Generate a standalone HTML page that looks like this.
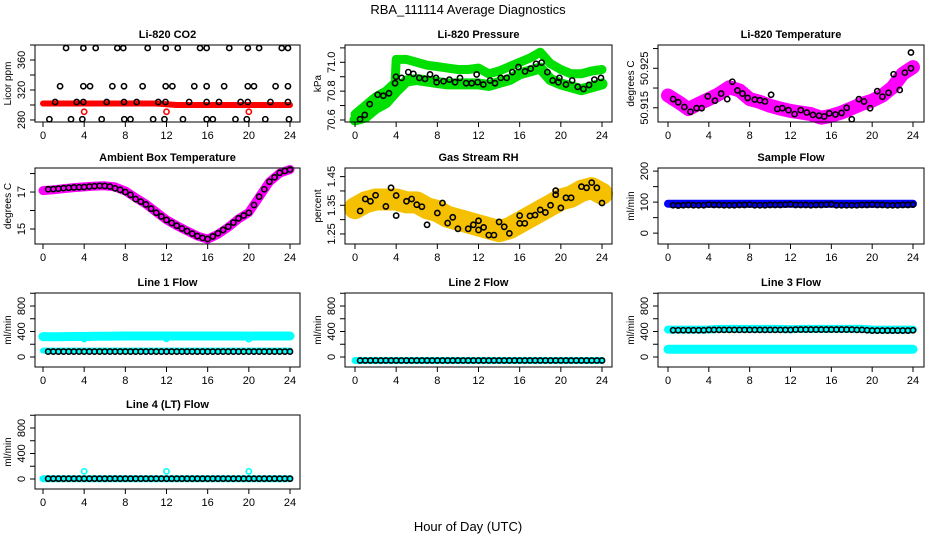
<!DOCTYPE html>
<html><head><meta charset="utf-8"><style>
html,body{margin:0;padding:0;background:#fff;}
svg{display:block;font-family:"Liberation Sans",Arial,sans-serif;}
</style></head><body>
<svg id="chart" width="936" height="540" viewBox="0 0 936 540">
<text x="468" y="14" text-anchor="middle" font-size="13">RBA_111114  Average Diagnostics</text>
<text x="468" y="531" text-anchor="middle" font-size="13">Hour of Day (UTC)</text>
</svg>
<script>
// ---------- DATA ----------
const hourTicks = [0,4,8,12,16,20,24];
const bandHours = [0,1,2,3,4,5,6,7,8,9,10,11,12,13,14,15,16,17,18,19,20,21,22,23,24];
const halfHours = [0.5,1,1.5,2,2.5,3,3.5,4,4.5,5,5.5,6,6.5,7,7.5,8,8.5,9,9.5,10,10.5,11,11.5,12,12.5,13,13.5,14,14.5,15,15.5,16,16.5,17,17.5,18,18.5,19,19.5,20,20.5,21,21.5,22,22.5,23,23.5,24];

// CO2
const co2Band = [302,302,302,302,302,302,302,302,302,302,302,302,301,300,300,300,300,300,300,300,300,300,300,300,300];
const co2Hours = [2.24,3.92,5.12,7.22,7.8,10.17,11.92,13.09,15.26,15.9,18.1,19.9,21,23.2,23.8, 1.66,3.92,4.57,6.74,7.87,9.68,11.92,12.57,14.7,15.9,17.6,19.9,20.5,22.6,23.8, 1.18,3.27,3.92,6.19,7.87,9.1,11.2,11.9,14.2,15.9,17.1,19.2,19.9,22.1,23.8, 0.62,2.72,3.82,5.7,7.9,8.5,10.7,11.8,13.6,15.9,16.5,18.7,19.8,21.6,23.9];
const co2Values = [376,376,376,376,376,376,376,376,376,376,376,376,376,376,376, 325,325,325,325,325,325,325,325,325,325,325,325,325,325,325, 304,304,304,304,304,304,304,304,304,304,304,304,304,304,304, 281,281,281,281,281,281,281,281,281,281,281,281,281,281,281];
const co2OutHours = [4,12,20];
const co2OutValues = [291,291,291];

// Pressure
const presLowBand = [70.6,70.62,70.68,70.72,70.8,70.87,70.88,70.87,70.86,70.85,70.85,70.85,70.85,70.84,70.86,70.88,70.92,70.94,70.96,70.88,70.85,70.83,70.81,70.83,70.85];
const presUpHours = [0,1,2,3,3.9,4,5,6,7,8,9,10,11,12,13,14,15,16,17,18,19,20,21,22,23,24];
const presUpBand = [70.64,70.7,70.76,70.8,70.86,71.02,71.02,71.0,70.98,70.97,70.96,70.95,70.95,70.96,70.92,70.94,70.97,71.0,71.03,71.07,70.99,70.95,70.92,70.92,70.94,70.95];
const presHours = [0.49,0.95,1.43,2.2,2.75,3.3,3.89,3.98,4.53,5.18,5.67,6.25,6.8,7.29,7.87,7.93,8.6,9.17,9.72,10.2,10.8,11.34,11.82,11.92,12.47,13.12,13.6,14.16,14.74,15.29,15.88,16.52,17.07,17.59,18.14,18.69,19.21,19.76,19.86,20.5,21.1,21.64,22.2,22.74,23.26,23.9];
const presValues = [70.605,70.635,70.71,70.775,70.768,70.785,70.855,70.9,70.892,70.932,70.92,70.892,70.885,70.916,70.892,70.862,70.869,70.88,70.862,70.892,70.855,70.855,70.916,70.862,70.846,70.874,70.855,70.892,70.892,70.932,70.967,70.937,70.956,70.99,70.998,70.932,70.874,70.862,70.892,70.846,70.874,70.83,70.815,70.843,70.88,70.892];

// Li-820 temperature
const tempBand = [50.9181,50.9165,50.9147,50.9160,50.9172,50.9185,50.9202,50.9194,50.9172,50.9165,50.9155,50.9148,50.9142,50.9138,50.9134,50.9125,50.9130,50.9138,50.9149,50.9160,50.9168,50.9181,50.9202,50.9236,50.9253];
const tempHours = [0.5,1,1.6,2.2,2.8,3.3,3.9,4.6,5.2,5.8,6.3,6.8,7.3,7.8,8.5,9,9.5,10.1,10.7,11.2,11.8,12.4,13,13.6,14.2,14.8,15.3,15.8,16.4,17,17.5,18,18.7,19.2,19.8,20.5,21,21.6,22.1,22.7,23.2,23.8,23.8];
const tempValues = [50.9172,50.9164,50.9152,50.9140,50.9149,50.9149,50.9179,50.9168,50.9186,50.9172,50.9216,50.9194,50.9186,50.9175,50.9171,50.9169,50.9166,50.9183,50.9147,50.9149,50.9144,50.9134,50.9144,50.9138,50.9132,50.9130,50.9128,50.9136,50.9133,50.9137,50.9150,50.9121,50.9172,50.9166,50.9149,50.9192,50.9178,50.9188,50.9235,50.9195,50.9239,50.9250,50.9290];

// Ambient box temperature
const ambBand = [17.08,17.12,17.18,17.24,17.28,17.32,17.34,17.28,17.06,16.7,16.35,15.92,15.5,15.18,14.9,14.62,14.45,14.72,15.1,15.55,15.9,16.72,17.55,18.02,18.22];
const ambHours = [0.5,1,1.5,2,2.5,3,3.5,4,4.5,5,5.5,6,6.5,7,7.5,8,8.5,9,9.5,10,10.5,11,11.5,12,12.5,13,13.5,14,14.5,15,15.5,16,16.5,17,17.5,18,18.5,19,19.5,20,20.5,21,21.5,22,22.5,23,23.5,24];
const ambValues = [17.15,17.16,17.18,17.21,17.23,17.25,17.26,17.27,17.3,17.32,17.34,17.33,17.3,17.2,17.12,17.0,16.85,16.62,16.48,16.33,16.1,15.88,15.68,15.49,15.33,15.18,15.03,14.89,14.75,14.62,14.52,14.46,14.6,14.77,14.95,15.13,15.35,15.58,15.73,15.88,16.3,16.75,17.15,17.56,17.8,18.04,18.14,18.22];

// Gas stream RH
const rhBand = [1.34,1.36,1.37,1.37,1.37,1.36,1.36,1.34,1.33,1.31,1.3,1.29,1.28,1.27,1.26,1.27,1.29,1.31,1.33,1.35,1.37,1.38,1.4,1.41,1.39];
const rhHours = [0.5,1,1.5,2,3,3.5,4,4,5,5.5,6,6.5,7,8,8.5,9,9.5,10,11,11.5,12,12,12.5,13,13.5,14,14.5,15,16,16,16.5,17,17.5,18,18.5,19,19.5,19.5,20,20.5,21,22,22.5,23,23.5,24];
const rhValues = [1.33,1.372,1.364,1.385,1.346,1.411,1.384,1.314,1.364,1.372,1.352,1.345,1.282,1.323,1.358,1.288,1.308,1.268,1.268,1.282,1.296,1.264,1.273,1.246,1.246,1.292,1.275,1.252,1.287,1.314,1.287,1.313,1.316,1.334,1.325,1.35,1.401,1.387,1.341,1.376,1.376,1.415,1.411,1.429,1.411,1.358];

// Sample flow
const sampleBand = [95,95,95,95,95,95,95,95,95,95,95,95,95,95,95,95,95,95,95,95,95,95,95,95,95];
const sampleValues = [90,89,90,91,90,90,90,92,91,91,90,90,90,91,91,92,90,90,90,91,91,91,92,93,91,91,91,90,91,91,92,93,90,90,90,90,90,91,91,92,91,91,90,90,90,91,91,92];

// Line flows
const line1Upper = [320,318,320,322,322,325,325,328,330,330,330,330,330,330,330,330,330,330,330,330,328,330,330,330,330];
const line1Lower = [100,100,100,100,100,100,100,100,100,100,100,100,100,100,100,100,100,100,100,100,100,100,100,100,100];
const line1Black = 85;
const line1OutValues = [280,285,280];
const line2Values = [-55,-55,-55,-55,-55,-55,-55,-55,-55,-55,-55,-55,-55,-55,-55,-55,-55,-55,-55,-55,-55,-55,-55,-55,-55];
const line3Upper = [430,430,430,430,432,440,440,440,440,440,440,440,435,440,440,440,440,440,440,440,430,430,430,430,430];
const line3Lower = [120,120,120,120,120,120,120,120,120,120,120,120,120,120,120,120,120,120,120,120,120,120,120,120,120];
const line3Black = [420,420,420,420,420,420,420,425,425,425,425,425,425,425,425,425,425,425,425,425,425,425,425,425,430,430,430,430,430,430,430,430,430,430,430,430,425,425,420,415,415,415,415,415,415,415,415,420];
const line4Band = [5,5,5,5,5,5,5,5,5,5,5,5,5,5,5,5,5,5,5,5,5,5,5,5,5];
const line4OutValues = [120,120,120];
const line4Black = 5;
const outHours = [4,12,20];

// ---------- LAYOUT ----------
const colL=[35,345,658], colR=[300,612,924], colX0=[43,355,668], colX24=[290,602,913];
const rowT=[45,168,293,415], rowB=[122,244,367,489];
const NS='http://www.w3.org/2000/svg';
const svg=document.getElementById('chart');
function mk(tag,attrs,parent){const e=document.createElementNS(NS,tag);for(const k in attrs)e.setAttribute(k,attrs[k]);(parent||svg).appendChild(e);return e;}

function panel(id,col,row,title,ylab,ylim,ticks,labels){
  const g=mk('g',{});
  
  
  const L=colL[col],R=colR[col],T=rowT[row],B=rowB[row];
  const xs=h=>colX0[col]+(colX24[col]-colX0[col])*h/24;
  const ys=v=>B-(v-ylim[0])/(ylim[1]-ylim[0])*(B-T);
  const t=mk('text',{x:(L+R)/2,y:T-7,'text-anchor':'middle','font-size':11,'font-weight':'bold'},g);
  t.textContent=title;
  
  
  const yl=mk('text',{x:0,y:0,'text-anchor':'middle','font-size':10,transform:`translate(${L-24},${(T+B)/2}) rotate(-90)`},g);
  yl.textContent=ylab;
  
  
  const plot=mk('g',{},g);
  
  
  const box=mk('rect',{x:L,y:T,width:R-L,height:B-T,fill:'none',stroke:'#000','stroke-width':1},g);
  
  
  hourTicks.forEach(h=>{
    mk('line',{x1:xs(h),x2:xs(h),y1:B,y2:B+5,stroke:'#000'},g);
    const tl=mk('text',{x:xs(h),y:B+17,'text-anchor':'middle','font-size':11},g);
    tl.textContent=h;
    
    
  });
  ticks.forEach(v=>{mk('line',{x1:L-5,x2:L,y1:ys(v),y2:ys(v),stroke:'#000'},g);});
  labels.forEach(v=>{
    const tl=mk('text',{x:0,y:0,'text-anchor':'middle','font-size':11,transform:`translate(${L-10},${ys(v)}) rotate(-90)`},g);
    tl.textContent=String(v);
    
    
  });
  return {plot,xs,ys,id};
}
function band(p,hours,vals,color,w,name){
  const pts=hours.map((h,i)=>p.xs(h).toFixed(1)+','+p.ys(vals[i]).toFixed(1)).join(' ');
  const e=mk('polyline',{points:pts,fill:'none',stroke:color,'stroke-width':w,'stroke-linejoin':'round','stroke-linecap':'round'},p.plot);
  
  
}
function pts(p,hours,vals,color,name,r){
  hours.forEach((h,i)=>{
    const v=Array.isArray(vals)?vals[i]:vals;
    const c=mk('circle',{cx:p.xs(h),cy:p.ys(v),r:r||2.6,fill:'none',stroke:color,'stroke-width':1.6},p.plot);
    
    
  });
}

const flowTicks=[0,200,400,600,800,1000], flowLabels=[0,400,800], flowLim=[-157,1004];

let p=panel('co2',0,0,'Li-820 CO2','Licor ppm',[277.3,380],[280,300,320,340,360,380],[280,320,360]);
band(p,bandHours,co2Band,'#ff0000',6,'co2-band');
pts(p,co2OutHours,co2OutValues,'#ff0000','co2-outlier');
pts(p,co2Hours,co2Values,'#000','co2-point');

p=panel('pressure',1,0,'Li-820 Pressure','kPa',[70.586,71.12],[70.6,70.7,70.8,70.9,71.0,71.1],['70.6','70.8','71.0']);
band(p,presUpHours,presUpBand,'#00e000',9,'pressure-upper-band');
band(p,bandHours,presLowBand,'#00e000',11,'pressure-lower-band');
pts(p,presHours,presValues,'#000','pressure-point');

p=panel('li820-temp',2,0,'Li-820 Temperature','degrees C',[50.9114,50.9309],[50.915,50.92,50.925,50.93],['50.915','50.925']);
band(p,bandHours,tempBand,'#ff00ff',14,'temperature-band');
pts(p,tempHours,tempValues,'#000','temperature-point');

p=panel('ambient',0,1,'Ambient Box Temperature','degrees C',[14.19,18.3],[15,16,17,18],[15,17]);
band(p,bandHours,ambBand,'#ff00ff',9,'ambient-band');
pts(p,ambHours,ambValues,'#000','ambient-point');

p=panel('rh',1,1,'Gas Stream RH','percent',[1.215,1.48],[1.25,1.3,1.35,1.4,1.45],['1.25','1.35','1.45']);
band(p,bandHours,rhBand,'#f5c000',22,'rh-band');
pts(p,rhHours,rhValues,'#000','rh-point');

p=panel('sample-flow',2,1,'Sample Flow','ml/min',[-35,210],[0,50,100,150,200],[0,100,200]);
band(p,bandHours,sampleBand,'#0000ff',8,'sample-flow-band');
pts(p,halfHours,sampleValues,'#000','sample-flow-point');

p=panel('line1-flow',0,2,'Line 1 Flow','ml/min',flowLim,flowTicks,flowLabels);
band(p,bandHours,line1Upper,'#00ffff',9,'line1-upper-band');
band(p,bandHours,line1Lower,'#00ffff',6,'line1-lower-band');
pts(p,outHours,line1OutValues,'#00ffff','line1-outlier');
pts(p,halfHours,line1Black,'#000','line1-point');

p=panel('line2-flow',1,2,'Line 2 Flow','ml/min',flowLim,flowTicks,flowLabels);
band(p,bandHours,line2Values,'#00ffff',7,'line2-band');
pts(p,halfHours,-55,'#000','line2-point');

p=panel('line3-flow',2,2,'Line 3 Flow','ml/min',flowLim,flowTicks,flowLabels);
band(p,bandHours,line3Upper,'#00ffff',8,'line3-upper-band');
band(p,bandHours,line3Lower,'#00ffff',9,'line3-lower-band');
pts(p,halfHours,line3Black,'#000','line3-point');

p=panel('line4-flow',0,3,'Line 4 (LT) Flow','ml/min',flowLim,flowTicks,flowLabels);
band(p,bandHours,line4Band,'#00ffff',7,'line4-band');
pts(p,outHours,line4OutValues,'#00ffff','line4-outlier');
pts(p,halfHours,line4Black,'#000','line4-point');
</script>
</body></html>
